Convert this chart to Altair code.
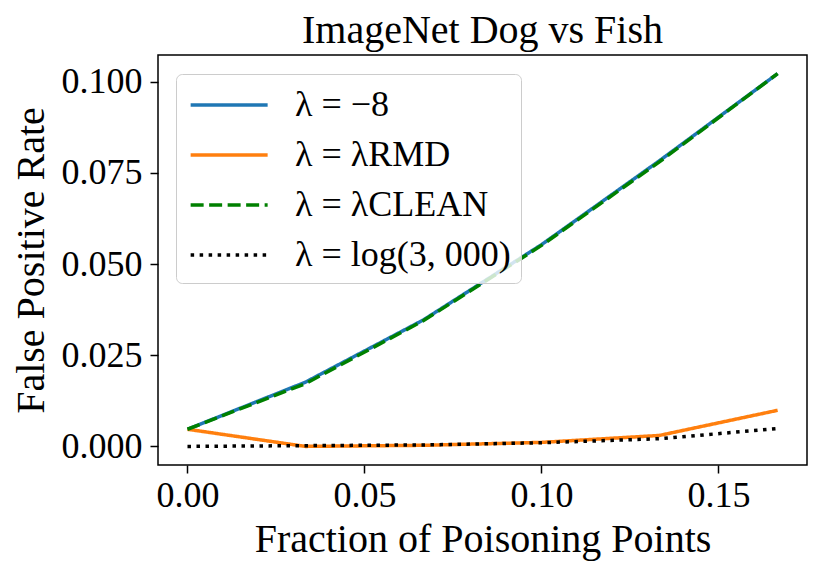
import altair as alt
import pandas as pd

# Data
fractions = [0.0, 0.0333, 0.0667, 0.1, 0.1333, 0.1667]
series_names = ["λ = −8", "λ = λRMD", "λ = λCLEAN", "λ = log(3, 000)"]
fpr_minus8 = [0.0047, 0.0176, 0.0347, 0.0553, 0.0783, 0.1022]
fpr_rmd = [0.0047, 0.0, 0.0003, 0.0011, 0.0030, 0.0099]
fpr_clean = [0.0047, 0.0172, 0.0345, 0.0551, 0.0780, 0.1022]
fpr_log3000 = [0.0, 0.0002, 0.0004, 0.0010, 0.0021, 0.0049]
x_ticks = [0.0, 0.05, 0.10, 0.15]
y_ticks = [0.0, 0.025, 0.05, 0.075, 0.1]

colors = ["#1f77b4", "#ff7f0e", "#008000", "#000000"]
dashes = [[1, 0], [1, 0], [13, 5.5], [3.5, 5.5]]

rows = []
for name, vals in zip(series_names, [fpr_minus8, fpr_rmd, fpr_clean, fpr_log3000]):
    for f, v in zip(fractions, vals):
        rows.append({"frac": f, "fpr": v, "series": name})
df = pd.DataFrame(rows)

FONT = "Liberation Serif"

legend_props = dict(
    title=None,
    orient="none",
    legendX=18,
    legendY=19,
    fillColor="rgba(255,255,255,0.8)",
    strokeColor="#cccccc",
    cornerRadius=6,
    padding=10,
    symbolType="M-0.85,0L3.15,0",
    symbolSize=1482,
    symbolStrokeWidth=3.5,
    labelFont=FONT,
    labelFontSize=36,
    labelColor="black",
    labelOffset=67,
    labelLimit=500,
    rowPadding=11,
)

chart = alt.Chart(df).mark_line(strokeWidth=3.5, strokeCap="butt").encode(
    x=alt.X(
        "frac:Q",
        scale=alt.Scale(domain=[-0.00833, 0.175], nice=False, zero=False),
        axis=alt.Axis(values=x_ticks, format=".2f", title="Fraction of Poisoning Points",
                      labelPadding=5, titlePadding=6),
    ),
    y=alt.Y(
        "fpr:Q",
        scale=alt.Scale(domain=[-0.0051, 0.1073], nice=False, zero=False),
        axis=alt.Axis(values=y_ticks, format=".3f", title="False Positive Rate",
                      labelPadding=8, titlePadding=10),
    ),
    color=alt.Color("series:N", scale=alt.Scale(domain=series_names, range=colors),
                    legend=alt.Legend(**legend_props)),
    strokeDash=alt.StrokeDash("series:N", scale=alt.Scale(domain=series_names, range=dashes),
                              legend=alt.Legend(**legend_props)),
).properties(
    width=649,
    height=410,
    title=alt.Title("ImageNet Dog vs Fish", font=FONT, fontSize=40, fontWeight="normal",
                    color="black", offset=4),
    autosize=alt.AutoSizeParams(type="none"),
    padding={"left": 150, "top": 47, "right": 14, "bottom": 102},
).configure_view(
    stroke="black", strokeWidth=1.5
).configure_axis(
    domain=False,
    grid=False,
    ticks=True,
    tickColor="black",
    tickSize=8,
    tickWidth=1.5,
    labelFont=FONT,
    labelFontSize=36,
    labelColor="black",
    titleFont=FONT,
    titleFontSize=40,
    titleFontWeight="normal",
    titleColor="black",
).configure_legend(
    labelFont=FONT,
    labelFontSize=36,
)

chart.save("out.html", embed_options={"renderer": "svg", "actions": False})
